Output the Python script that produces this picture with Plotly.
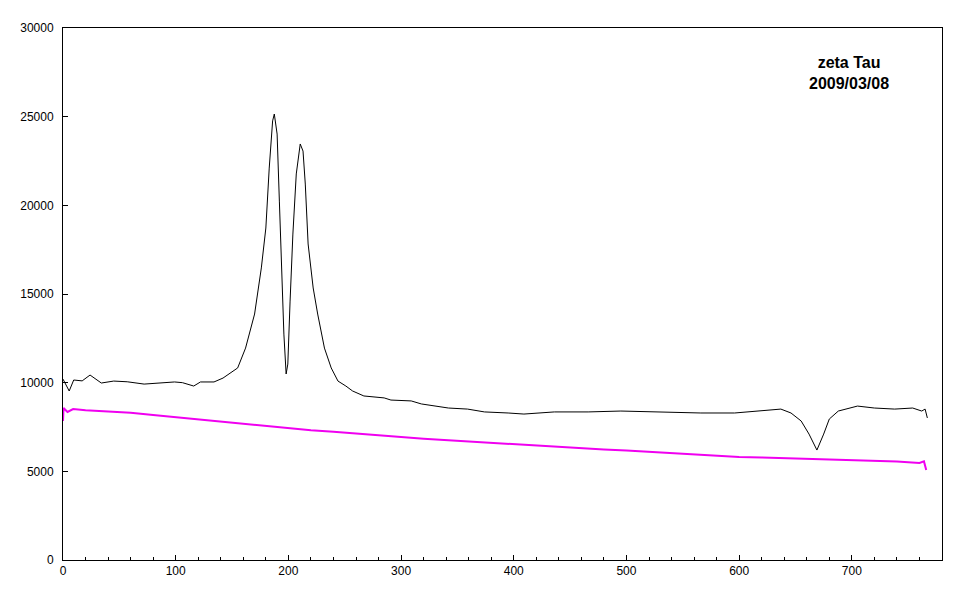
import plotly.graph_objects as go

# black spectrum (pixel index, counts)
star_x = [0, 5.5, 9.5, 17, 24, 34, 45, 57, 72, 84, 99, 106, 116, 122, 134, 142, 149, 155,
          162, 170, 176, 180, 183, 186, 187.5, 190, 192, 194, 196, 198, 199.5, 201.5, 204,
          207, 209.5, 210.5, 213, 215, 217.5, 222, 226, 232, 238, 244, 251, 257, 267, 285,
          291, 309, 318, 342, 359, 374, 395, 409, 436, 466, 495, 522, 566, 596, 626, 637,
          646, 655, 662, 669, 675, 680, 688, 697, 705, 720, 738, 754, 762, 765, 767]
star_y = [10200, 9530, 10150, 10100, 10430, 9980, 10090, 10050, 9920, 9980, 10040, 10000,
          9810, 10040, 10040, 10260, 10540, 10830, 11950, 13870, 16470, 18720, 22100, 24760,
          25150, 24020, 20240, 16470, 12740, 10490, 11050, 14600, 18380, 21770, 23180, 23460,
          23060, 21200, 17820, 15340, 13870, 11950, 10830, 10090, 9810, 9530, 9250, 9140,
          9020, 8970, 8800, 8570, 8510, 8350, 8290, 8230, 8350, 8350, 8400, 8350, 8290, 8290,
          8460, 8510, 8290, 7840, 7100, 6200, 7100, 7950, 8400, 8570, 8680, 8570, 8510, 8570,
          8400, 8510, 8010]

# magenta reference curve
ref_x = [0, 0.5, 4, 9, 20, 40, 60, 80, 100, 120, 140, 160, 180, 200, 220, 240, 260, 280,
         300, 320, 340, 360, 380, 400, 420, 440, 460, 480, 500, 520, 540, 560, 580, 600,
         620, 640, 660, 680, 700, 720, 740, 760, 764, 766]
ref_y = [7840, 8570, 8350, 8510, 8450, 8380, 8300, 8180, 8060, 7900, 7800, 7680, 7560,
         7440, 7320, 7230, 7120, 7020, 6940, 6840, 6760, 6680, 6600, 6540, 6460, 6390,
         6320, 6230, 6170, 6090, 6030, 5960, 5880, 5810, 5780, 5740, 5700, 5680, 5640,
         5620, 5550, 5470, 5560, 5070]

title_lines = ["zeta Tau", "2009/03/08"]

fig = go.Figure()
fig.add_trace(go.Scatter(x=star_x, y=star_y, mode='lines',
                         line=dict(color='black', width=1)))
fig.add_trace(go.Scatter(x=ref_x, y=ref_y, mode='lines',
                         line=dict(color='#f000f0', width=2)))

fig.add_annotation(
    text="<br>".join(title_lines),
    xref='paper', yref='paper', x=0.894, y=0.915,
    xanchor='center', yanchor='middle',
    showarrow=False, align='center',
    font=dict(family='Arial, Liberation Sans', size=16, color='black', weight='bold')
)

axis_font = dict(family='Arial, Liberation Sans', size=12, color='black')
# page body adds ~7px offset, so margins are shifted to compensate
fig.update_layout(
    width=968, height=605,
    margin=dict(l=55, r=34, t=20, b=53),
    plot_bgcolor='white', paper_bgcolor='white',
    showlegend=False,
)
fig.update_xaxes(
    range=[0, 780], dtick=100, tick0=0, automargin=False,
    showgrid=False, zeroline=False,
    showline=True, linecolor='black', linewidth=1, mirror=True,
    ticks='inside', ticklen=5, tickcolor='black', tickwidth=1,
    minor=dict(dtick=20, tick0=0, ticks='inside', ticklen=3, tickcolor='black',
               tickwidth=1, showgrid=False),
    tickfont=axis_font,
)
fig.update_yaxes(
    range=[0, 30000], dtick=5000, tickformat='d', automargin=False,
    showgrid=False, zeroline=False,
    showline=True, linecolor='black', linewidth=1, mirror=True,
    ticks='inside', ticklen=5, tickcolor='black', tickwidth=1,
    tickfont=axis_font, ticklabelstandoff=6,
)

fig.write_html("out.html")
